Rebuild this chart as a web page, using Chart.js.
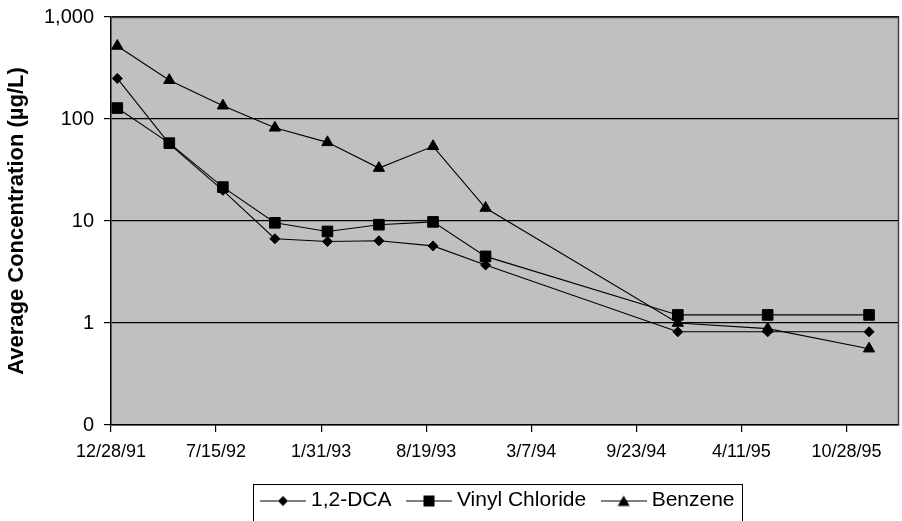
<!DOCTYPE html>
<html>
<head>
<meta charset="utf-8">
<script src="https://cdn.jsdelivr.net/npm/chart.js@4/dist/chart.umd.min.js"></script>
<style>
  html, body { margin: 0; padding: 0; background: #ffffff; }
  #wrap { width: 902px; height: 521px; position: relative; }
</style>
</head>
<body>
<div id="wrap"><canvas id="chart" width="902" height="521"></canvas></div>
<script>
// Sampling dates (M/D/YY) and average concentrations in µg/L
const sampleDates = ['1/9/92', '4/17/92', '7/28/92', '11/4/92', '2/12/93', '5/21/93',
                     '9/1/93', '12/10/93', '12/11/94', '5/31/95', '12/10/95'];
const dca =           [250, 57, 20, 6.7, 6.3, 6.4, 5.7, 3.7, 0.82, 0.82, 0.82];
const vinylChloride = [128, 58, 21.5, 9.6, 7.9, 9.2, 9.8, 4.5, 1.2, 1.2, 1.2];
const benzene =       [520, 240, 135, 82, 59, 33, 54, 13.4, 1.0, 0.88, 0.56];

const seriesNames = ['1,2-DCA', 'Vinyl Chloride', 'Benzene'];

// Axis ticks
const xTickLabels = ['12/28/91', '7/15/92', '1/31/93', '8/19/93', '3/7/94', '9/23/94', '4/11/95', '10/28/95'];
const xAxisEnd = '2/5/96';
const yTickValues = [0.1, 1, 10, 100, 1000];
const yTickLabels = ['0', '1', '10', '100', '1,000'];

const FONT = '"Liberation Sans", Arial, Helvetica, sans-serif';

// Days since the first x tick date
function parseMDY(s) {
  const [m, d, y] = s.split('/').map(Number);
  return Date.UTC(1900 + y, m - 1, d);
}
const origin = parseMDY(xTickLabels[0]);
const dayOf = s => Math.round((parseMDY(s) - origin) / 86400000);
const xTickDays = xTickLabels.map(dayOf);
const xMax = dayOf(xAxisEnd);

const toPoints = vals => vals.map((v, i) => ({ x: dayOf(sampleDates[i]), y: v }));

// Legend symbol: short line with the marker in the middle
function legendSymbol(style) {
  const c = document.createElement('canvas');
  c.width = 46; c.height = 16;
  const g = c.getContext('2d');
  g.strokeStyle = '#000'; g.lineWidth = 1.2;
  g.beginPath(); g.moveTo(0, 8.5); g.lineTo(46, 8.5); g.stroke();
  g.fillStyle = '#000';
  g.beginPath();
  if (style === 'rectRot') {
    g.moveTo(23, 3.5); g.lineTo(28, 8.5); g.lineTo(23, 13.5); g.lineTo(18, 8.5);
  } else if (style === 'rect') {
    g.rect(17.5, 3, 11, 11);
  } else {
    g.moveTo(23, 3); g.lineTo(29, 13.5); g.lineTo(17, 13.5);
  }
  g.closePath(); g.fill();
  return c;
}

const markers = [
  { style: 'rectRot', radius: 5 },
  { style: 'rect', radius: 7.5 },
  { style: 'triangle', radius: 6.5 }
];
const seriesValues = [dca, vinylChloride, benzene];

const datasets = seriesNames.map((name, i) => ({
  label: name,
  data: toPoints(seriesValues[i]),
  borderColor: '#000000',
  backgroundColor: '#000000',
  borderWidth: 1.1,
  pointStyle: markers[i].style,
  pointRadius: markers[i].radius,
  pointHoverRadius: markers[i].radius,
  pointBorderWidth: 1,
  pointBackgroundColor: '#000000',
  pointBorderColor: '#000000',
  tension: 0,
  legendSymbol: legendSymbol(markers[i].style)
}));

// Grey plot background and frame
const plotFrame = {
  id: 'plotFrame',
  beforeDraw(chart) {
    const a = chart.chartArea, ctx = chart.ctx;
    ctx.save();
    ctx.fillStyle = '#c0c0c0';
    ctx.fillRect(a.left, a.top, a.right - a.left, a.bottom - a.top);
    ctx.restore();
  },
  beforeDatasetsDraw(chart) {
    const a = chart.chartArea, ctx = chart.ctx;
    ctx.save();
    ctx.strokeStyle = '#404040';
    ctx.lineWidth = 1.5;
    ctx.beginPath();
    ctx.moveTo(a.left, a.top + 0.5);
    ctx.lineTo(a.right - 0.5, a.top + 0.5);
    ctx.lineTo(a.right - 0.5, a.bottom);
    ctx.stroke();
    ctx.restore();
  }
};

// Legend sits a little left of the plot centre, inside a frame
const legendFrame = {
  id: 'legendFrame',
  afterLayout(chart) {
    const lg = chart.legend;
    if (!lg) return;
    lg.left -= 5;
    lg.right -= 5;
  },
  afterDraw(chart) {
    const lg = chart.legend;
    if (!lg || !lg.legendHitBoxes || !lg.legendHitBoxes.length) return;
    const hb = lg.legendHitBoxes;
    const left = hb[0].left - 12;
    const last = hb[hb.length - 1];
    const right = last.left + last.width + 8;
    const top = hb[0].top - 6;
    const ctx = chart.ctx;
    ctx.save();
    ctx.strokeStyle = '#000';
    ctx.lineWidth = 1;
    ctx.strokeRect(Math.round(left) + 0.5, Math.round(top) + 0.5, Math.round(right - left), 60);
    ctx.restore();
  }
};

new Chart(document.getElementById('chart'), {
  type: 'line',
  data: { datasets },
  plugins: [plotFrame, legendFrame],
  options: {
    responsive: false,
    animation: false,
    events: [],
    layout: { autoPadding: false, padding: { left: 0, right: 3, top: 17, bottom: 0 } },
    plugins: {
      tooltip: { enabled: false },
      legend: {
        display: true,
        position: 'bottom',
        fullSize: false,
        labels: {
          usePointStyle: true,
          pointStyleWidth: 35,
          boxHeight: 16,
          padding: 20,
          color: '#000',
          font: { family: FONT, size: 21 },
          generateLabels(chart) {
            return chart.data.datasets.map((ds, i) => ({
              text: ds.label,
              pointStyle: ds.legendSymbol,
              fillStyle: '#000',
              strokeStyle: '#000',
              lineWidth: 0,
              hidden: false,
              datasetIndex: i
            }));
          }
        }
      }
    },
    scales: {
      x: {
        type: 'linear',
        min: 0,
        max: xMax,
        afterBuildTicks(scale) { scale.ticks = xTickDays.map(v => ({ value: v })); },
        afterFit(scale) { scale.height = 45; scale.paddingLeft = 0; scale.paddingRight = 0; },
        ticks: {
          autoSkip: false,
          maxRotation: 0,
          padding: 9,
          color: '#000',
          font: { family: FONT, size: 18 },
          callback: (v, i) => xTickLabels[i]
        },
        grid: { drawOnChartArea: false, drawTicks: true, tickLength: 7, color: '#000', lineWidth: 1.2 },
        border: { display: true, color: '#000', width: 1.5 }
      },
      y: {
        type: 'logarithmic',
        min: yTickValues[0],
        max: yTickValues[yTickValues.length - 1],
        afterBuildTicks(scale) { scale.ticks = yTickValues.map(v => ({ value: v })); },
        afterFit(scale) { scale.width = 111; scale.paddingTop = 0; scale.paddingBottom = 0; },
        ticks: {
          autoSkip: false,
          padding: 10,
          color: '#000',
          font: { family: FONT, size: 20 },
          callback: (v, i) => yTickLabels[i]
        },
        grid: { drawOnChartArea: true, drawTicks: true, tickLength: 7, color: '#000', lineWidth: 1.2 },
        border: { display: true, color: '#000', width: 1.5 },
        title: {
          display: true,
          text: 'Average Concentration (µg/L)',
          color: '#000',
          font: { family: FONT, size: 22, weight: 'bold' },
          padding: { top: 4, bottom: 0 }
        }
      }
    }
  }
});
</script>
</body>
</html>
